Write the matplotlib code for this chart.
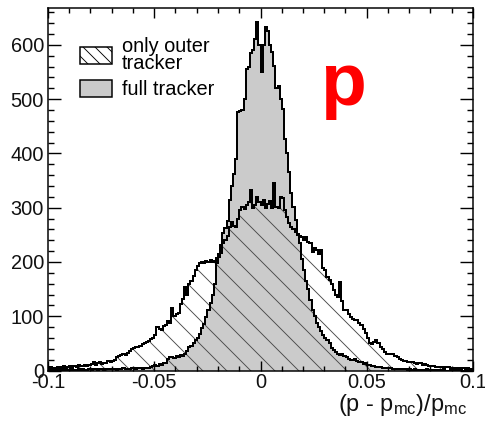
import matplotlib
matplotlib.use("Agg")
import matplotlib.pyplot as plt
import numpy as np
from matplotlib.patches import Patch

# histogram bins: 200 bins of 0.001 between -0.1 and 0.1
edges = np.linspace(-0.1, 0.1, 201)

# only outer tracker (hatched)
outer = [
    5, 6, 4, 5, 7, 5, 6, 8, 5, 7,
    8, 6, 9, 7, 10, 8, 9, 11, 8, 10,
    12, 15, 11, 13, 16, 12, 14, 13, 17, 15,
    18, 20, 24, 26, 28, 30, 29, 32, 36, 40,
    42, 43, 44, 46, 48, 50, 52, 55, 58, 60,
    66, 80, 76, 75, 82, 84, 92, 88, 115, 100,
    104, 106, 122, 132, 154, 140, 160, 165, 175, 185,
    192, 198, 200, 199, 201, 200, 203, 200, 202, 207,
    210, 216, 235, 240, 247, 265, 274, 266, 265, 280,
    296, 302, 298, 305, 310, 333, 300, 305, 320, 311,
    305, 315, 300, 306, 312, 300, 346, 302, 300, 320,
    318, 296, 283, 272, 265, 260, 255, 252, 248, 246,
    240, 246, 236, 235, 219, 225, 222, 215, 222, 189,
    185, 172, 167, 160, 148, 140, 135, 163, 128, 111,
    111, 105, 98, 95, 93, 93, 88, 84, 76, 69,
    60, 50, 48, 52, 56, 50, 43, 40, 35, 31,
    30, 31, 30, 26, 24, 21, 19, 18, 17, 15,
    16, 15, 14, 12, 13, 13, 11, 12, 10, 9,
    8, 9, 7, 6, 6, 7, 5, 6, 6, 5,
    4, 5, 4, 3, 4, 5, 3, 4, 3, 2,
]

# full tracker (grey)
full = [
    1, 0, 2, 1, 1, 0, 1, 2, 1, 0,
    1, 2, 1, 1, 3, 1, 2, 1, 0, 2,
    1, 2, 3, 1, 2, 2, 1, 3, 2, 2,
    3, 2, 1, 3, 2, 4, 3, 2, 3, 4,
    4, 3, 5, 4, 3, 5, 4, 5, 6, 8,
    10, 9, 12, 11, 13, 14, 22, 24, 25, 23,
    26, 24, 28, 27, 30, 36, 43, 45, 50, 56,
    60, 68, 78, 85, 98, 111, 125, 140, 160, 198,
    215, 232, 253, 262, 275, 315, 340, 362, 389, 476,
    478, 480, 500, 555, 560, 585, 590, 610, 643, 600,
    550, 600, 633, 625, 600, 587, 561, 520, 524, 500,
    481, 426, 400, 365, 328, 302, 278, 250, 235, 205,
    185, 165, 150, 130, 112, 100, 88, 80, 72, 66,
    60, 56, 50, 42, 37, 35, 30, 28, 30, 27,
    24, 22, 20, 19, 21, 17, 16, 15, 12, 13,
    11, 10, 9, 8, 7, 7, 6, 5, 5, 4,
    5, 4, 3, 3, 3, 2, 3, 2, 2, 1,
    2, 1, 2, 1, 1, 0, 1, 1, 2, 1,
    0, 1, 1, 0, 1, 0, 1, 0, 0, 1,
    0, 1, 0, 0, 1, 0, 0, 1, 0, 0,
]

labels = ["only outer\ntracker", "full tracker"]
xticks = [-0.1, -0.05, 0, 0.05, 0.1]
xticklabels = ["-0.1", "-0.05", "0", "0.05", "0.1"]
yticks = [0, 100, 200, 300, 400, 500, 600]

plt.rcParams['font.family'] = ['Liberation Sans', 'DejaVu Sans']
plt.rcParams['mathtext.fontset'] = 'custom'
plt.rcParams['mathtext.rm'] = 'Liberation Sans'
plt.rcParams['mathtext.it'] = 'Liberation Sans'
plt.rcParams['hatch.linewidth'] = 0.9

fig = plt.figure(figsize=(485 / 72, 425 / 72), dpi=72)
ax = fig.add_axes([48 / 485, 1 - 370.5 / 425, 425 / 485, 362.5 / 425])

grey = '#cbcbcb'
ax.stairs(full, edges, fill=True, facecolor=grey, edgecolor='none')
ax.stairs(outer, edges, fill=True, facecolor='none', edgecolor='#4a4a4a', hatch='\\', lw=0)
ax.stairs(outer, edges, color='black', lw=2)
ax.stairs(full, edges, color='black', lw=2)

ax.set_xlim(-0.1, 0.1)
ax.set_ylim(0, 668)
ax.set_xticks(xticks)
ax.set_xticklabels(xticklabels)
ax.set_xticks(np.arange(-0.1, 0.1001, 0.01), minor=True)
ax.set_yticks(yticks)
ax.set_yticks(np.arange(0, 661, 20), minor=True)
ax.tick_params(which='both', direction='in', top=True, right=True, width=1.4,
               labelsize=20, labelcolor='#111111')
ax.tick_params(axis='x', which='major', length=10, pad=3)
ax.tick_params(axis='x', which='minor', length=5)
ax.tick_params(axis='y', which='major', length=13, pad=4)
ax.tick_params(axis='y', which='minor', length=6)
for s in ax.spines.values():
    s.set_linewidth(1.5)

ax.set_xlabel(r'(p - p$_{\rm mc}$)/p$_{\rm mc}$', fontsize=23.5, loc='right', color='#111111')
ax.xaxis.set_label_coords(0.986, -0.059)

handles = [Patch(facecolor='white', edgecolor='black', hatch='\\\\', lw=1.5),
           Patch(facecolor=grey, edgecolor='black', lw=1.5)]
leg = ax.legend(handles, labels, loc='upper left', bbox_to_anchor=(0.075, 0.92),
                frameon=False, fontsize=20, handlelength=1.6, handleheight=0.95,
                handletextpad=0.5, labelspacing=0.35, borderpad=0, borderaxespad=0)
for t in leg.get_texts():
    t.set_linespacing(0.85)

ax.text(0.039, 490, 'p', color='red', fontsize=75, fontweight='bold',
        ha='center', va='baseline')

fig.savefig('out.png', dpi=72)
